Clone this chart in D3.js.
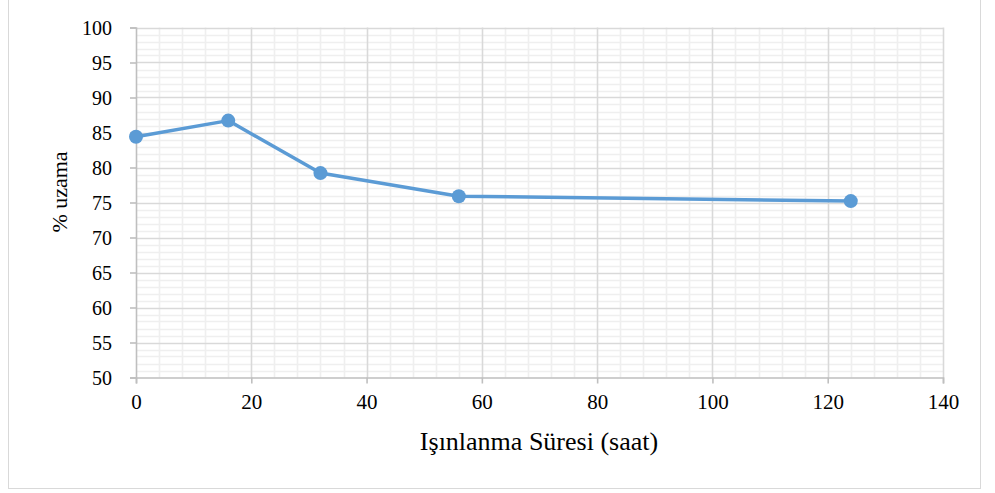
<!DOCTYPE html>
<html>
<head>
<meta charset="utf-8">
<script src="https://cdn.jsdelivr.net/npm/d3@7"></script>
<style>
  html, body { margin: 0; padding: 0; background: #fff; }
  svg { display: block; }
  svg text { font-family: "Liberation Serif", "Times New Roman", serif !important; fill: #000; }
</style>
</head>
<body>
<svg id="chart" width="995" height="493"></svg>
<script>
// Irradiation time (hours) and elongation (%)
const hours = [0, 16, 32, 56, 124];
const elongation = [84.4, 86.7, 79.2, 75.9, 75.2];
const xTicks = [0, 20, 40, 60, 80, 100, 120, 140];
const yTicks = [50, 55, 60, 65, 70, 75, 80, 85, 90, 95, 100];
const xTitle = "Işınlanma Süresi (saat)";
const yTitle = "% uzama";

const svg = d3.select("#chart");
const W = 995, H = 493;
const m = { left: 136, right: 52, top: 27.5, bottom: 115.5 };

// outer frame
svg.append("rect")
  .attr("x", 8.5).attr("y", -1).attr("width", 972).attr("height", 489.5)
  .attr("fill", "none").attr("stroke", "#d9d9d9").attr("stroke-width", 1);

const x = d3.scaleLinear().domain([0, 140]).range([m.left, W - m.right]);
const y = d3.scaleLinear().domain([50, 100]).range([H - m.bottom, m.top]);

const g = svg.append("g");

// minor grid
g.append("g").selectAll("line").data(d3.range(0, 141, 4).filter(v => v % 20 !== 0))
  .join("line")
  .attr("x1", d => Math.round(x(d)) + 0.5).attr("x2", d => Math.round(x(d)) + 0.5)
  .attr("y1", y(50)).attr("y2", y(100))
  .attr("stroke", "#efefef").attr("stroke-width", 1.6);
g.append("g").selectAll("line").data(d3.range(50, 101, 1).filter(v => v % 5 !== 0))
  .join("line")
  .attr("x1", x(0)).attr("x2", x(140))
  .attr("y1", d => Math.round(y(d)) + 0.5).attr("y2", d => Math.round(y(d)) + 0.5)
  .attr("stroke", "#efefef").attr("stroke-width", 1.6);

// major grid
g.append("g").selectAll("line").data(xTicks.slice(1))
  .join("line")
  .attr("x1", d => Math.round(x(d)) + 0.5).attr("x2", d => Math.round(x(d)) + 0.5)
  .attr("y1", y(50)).attr("y2", y(100))
  .attr("stroke", "#d9d9d9").attr("stroke-width", 1.6);
g.append("g").selectAll("line").data(yTicks.slice(1))
  .join("line")
  .attr("x1", x(0)).attr("x2", x(140))
  .attr("y1", d => Math.round(y(d)) + 0.5).attr("y2", d => Math.round(y(d)) + 0.5)
  .attr("stroke", "#d9d9d9").attr("stroke-width", 1.6);

// axes
const xAxis = d3.axisBottom(x).tickValues(xTicks).tickSize(6).tickPadding(11).tickFormat(d3.format("d"));
const yAxis = d3.axisLeft(y).tickValues(yTicks).tickSize(6).tickPadding(18).tickFormat(d3.format("d"));

const gx = svg.append("g").attr("transform", `translate(0,${y(50)})`).call(xAxis);
const gy = svg.append("g").attr("transform", `translate(${x(0)},0)`).call(yAxis);
[gx, gy].forEach(a => {
  a.attr("font-family", null);
  a.select(".domain").attr("stroke", "#bfbfbf").attr("stroke-width", 1.6);
  a.selectAll(".tick line").attr("stroke", "#bfbfbf").attr("stroke-width", 1.6);
  a.selectAll(".tick text").attr("font-size", 21).attr("fill", "#000");
});
gy.selectAll(".tick text").attr("font-size", 20).attr("dy", "0.35em");

// series
const pts = hours.map((h, i) => [h, elongation[i]]);
svg.append("path").datum(pts)
  .attr("fill", "none").attr("stroke", "#5b9bd5").attr("stroke-width", 3.5)
  .attr("stroke-linejoin", "round")
  .attr("d", d3.line().x(d => x(d[0])).y(d => y(d[1])));
svg.append("g").selectAll("circle").data(pts).join("circle")
  .attr("cx", d => x(d[0])).attr("cy", d => y(d[1])).attr("r", 7)
  .attr("fill", "#5b9bd5");

// axis titles
svg.append("text").attr("x", 539).attr("y", 450).attr("text-anchor", "middle")
  .attr("font-size", 26).text(xTitle);
svg.append("text").attr("transform", `translate(67,${192}) rotate(-90)`)
  .attr("text-anchor", "middle").attr("font-size", 22).text(yTitle);
</script>
</body>
</html>
